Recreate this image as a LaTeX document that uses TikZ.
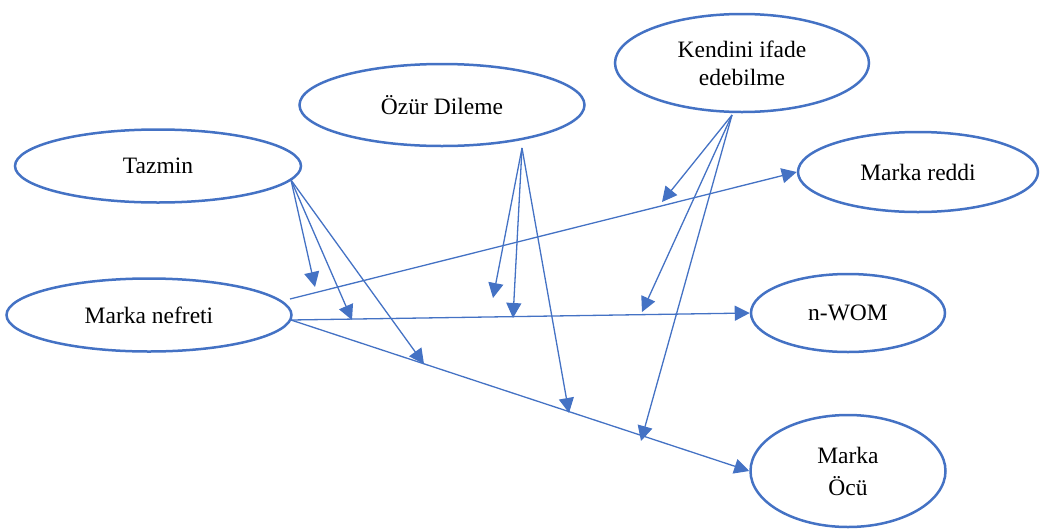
\documentclass[tikz,border=0pt]{standalone}
\usepackage{fontspec}
\setmainfont{Liberation Serif}
\usetikzlibrary{shapes.geometric,arrows.meta}
\definecolor{ofblue}{HTML}{4472C4}
\begin{document}
\begin{tikzpicture}[x=1pt,y=-1pt,
  factor/.style={ellipse,draw=ofblue,line width=2.5pt,inner sep=0pt,align=center,
    font=\fontsize{23.5}{28}\selectfont},
  link/.style={draw=ofblue,line width=1.3pt,-{Triangle[length=15pt,width=15pt]}}]
\useasboundingbox (0,0) rectangle (1045,528);
\foreach \n/\x/\y/\w/\h/\t in {taz/158/166/286/73/Tazmin,
    ozr/442/105/285/82/{Özür Dileme},
    ken/742/63/254/98/{Kendini ifade\\edebilme},
    red/918/172/240/80/{Marka reddi},
    nef/149/315/285/73/{Marka nefreti},
    wom/848/313/194/78/n-WOM,
    oc/848/471/195/112/{Marka\\[4pt]Öcü}}
  \node[factor,minimum width=\w pt,minimum height=\h pt] (\n) at (\x,\y) {\t};
% start and end points of the moderating arrows
\foreach \n/\x/\y in {tazS/291/180, ozrS/522/148, kenS/732/115, nefA/290/299, nefB/291/320,
    t1/315/287, t2/352/320, t3/424/364, o1/493/298, o2/513/318, o3/569/413,
    k1/662/202, k2/642/312, k3/641/441}
  \coordinate (\n) at (\x,\y);
\draw[link] (nefA) -- (red.west);
\draw[link] (nefB) -- (wom.west);
\draw[link] (nefB) -- (oc.west);
\foreach \s/\e in {tazS/t1,tazS/t2,tazS/t3,ozrS/o1,ozrS/o2,ozrS/o3,kenS/k1,kenS/k2,kenS/k3}
  \draw[link] (\s) -- (\e);
\end{tikzpicture}
\end{document}
